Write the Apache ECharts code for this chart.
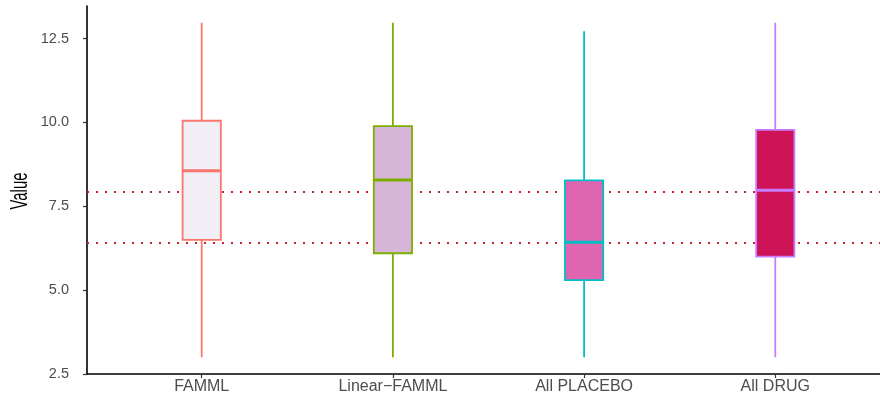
<!DOCTYPE html>
<html>
<head>
<meta charset="utf-8">
<title>Value by group</title>
<script src="https://cdn.jsdelivr.net/npm/echarts@6/dist/echarts.min.js"></script>
<style>
  html, body { margin: 0; padding: 0; background: #fff; }
  #chart { width: 880px; height: 396px; }
</style>
</head>
<body>
<div id="chart"></div>
<script>
// Box summaries per group
var categories = ['FAMML', 'Linear\u2212FAMML', 'All PLACEBO', 'All DRUG'];
var lowWhisker = [3.0, 3.0, 3.0, 3.0];
var lowerQuartile = [6.50, 6.10, 5.30, 6.00];
var medians = [8.56, 8.28, 6.43, 7.98];
var upperQuartile = [10.05, 9.89, 8.27, 9.78];
var highWhisker = [12.97, 12.97, 12.72, 12.97];

// Dotted reference levels
var referenceLevels = [7.92, 6.41];

// Value-axis tick labels
var yTicks = [2.5, 5.0, 7.5, 10.0, 12.5];

// Styling
var fillColors = ['#F1EEF6', '#D7B5D8', '#DF65B0', '#CE1256'];
var strokeColors = ['#F8766D', '#7CAE00', '#00BFC4', '#C77CFF'];

var positions = categories.map(function (c, i) { return i + 1; });
var boxData = categories.map(function (c, i) {
  return [positions[i], lowWhisker[i], lowerQuartile[i], medians[i], upperQuartile[i], highWhisker[i]];
});

var labelFont = 'Liberation Sans, Arial, Helvetica, sans-serif';

function renderBox(params, api) {
  var i = params.dataIndex;
  var x = api.value(0);
  var pLo = api.coord([x, api.value(1)]);
  var pQ1 = api.coord([x, api.value(2)]);
  var pMed = api.coord([x, api.value(3)]);
  var pQ3 = api.coord([x, api.value(4)]);
  var pHi = api.coord([x, api.value(5)]);
  var halfW = api.size([0.2, 0])[0] / 2;
  var stroke = strokeColors[i];
  return {
    type: 'group',
    children: [
      { type: 'line', shape: { x1: pQ3[0], y1: pQ3[1], x2: pHi[0], y2: pHi[1] },
        style: { stroke: stroke, lineWidth: 1.8 } },
      { type: 'line', shape: { x1: pLo[0], y1: pLo[1], x2: pQ1[0], y2: pQ1[1] },
        style: { stroke: stroke, lineWidth: 1.8 } },
      { type: 'rect', shape: { x: pMed[0] - halfW, y: pQ3[1], width: halfW * 2, height: pQ1[1] - pQ3[1] },
        style: { fill: fillColors[i], stroke: stroke, lineWidth: 1.8 } },
      { type: 'line', shape: { x1: pMed[0] - halfW, y1: pMed[1], x2: pMed[0] + halfW, y2: pMed[1] },
        style: { stroke: stroke, lineWidth: 3 } }
    ]
  };
}

var chart = echarts.init(document.getElementById('chart'), null, { renderer: 'canvas' });
chart.setOption({
  animation: false,
  backgroundColor: '#ffffff',
  grid: { left: 87, top: 6, width: 803, height: 368, outerBoundsMode: 'none' },
  xAxis: {
    type: 'value',
    min: 0.4,
    max: 4.6,
    splitLine: { show: false },
    axisLine: { show: true, onZero: false, lineStyle: { color: '#000', width: 1.6 } },
    axisTick: { show: true, customValues: positions, length: 4, lineStyle: { color: '#333', width: 1.2 } },
    axisLabel: {
      customValues: positions,
      formatter: function (v) { return categories[Math.round(v) - 1] || ''; },
      color: '#4D4D4D', fontSize: 16, fontFamily: labelFont, margin: 5
    }
  },
  yAxis: {
    type: 'value',
    min: 2.5,
    max: 13.47,
    splitLine: { show: false },
    axisLine: { show: true, onZero: false, lineStyle: { color: '#000', width: 1.6 } },
    axisTick: { show: true, customValues: yTicks, length: 4, lineStyle: { color: '#333', width: 1.2 } },
    axisLabel: {
      customValues: yTicks,
      formatter: function (v) { return v.toFixed(1); },
      color: '#4D4D4D', fontSize: 14.5, fontFamily: labelFont, margin: 18
    }
  },
  graphic: [{
    type: 'text',
    x: 20,
    y: 191,
    rotation: Math.PI / 2,
    scaleX: 0.62,
    style: {
      text: 'Value',
      fontSize: 24,
      fontFamily: labelFont,
      fill: '#000',
      align: 'center',
      verticalAlign: 'middle'
    }
  }],
  series: [
    {
      type: 'line',
      data: [],
      z: 1,
      markLine: {
        silent: true,
        z: 1,
        symbol: 'none',
        label: { show: false },
        lineStyle: { type: [2, 7], color: '#C62028', width: 2 },
        data: referenceLevels.map(function (v) { return { yAxis: v }; })
      }
    },
    {
      type: 'custom',
      z: 3,
      renderItem: renderBox,
      encode: { x: 0, y: [1, 2, 3, 4, 5] },
      data: boxData
    }
  ]
});
</script>
</body>
</html>
